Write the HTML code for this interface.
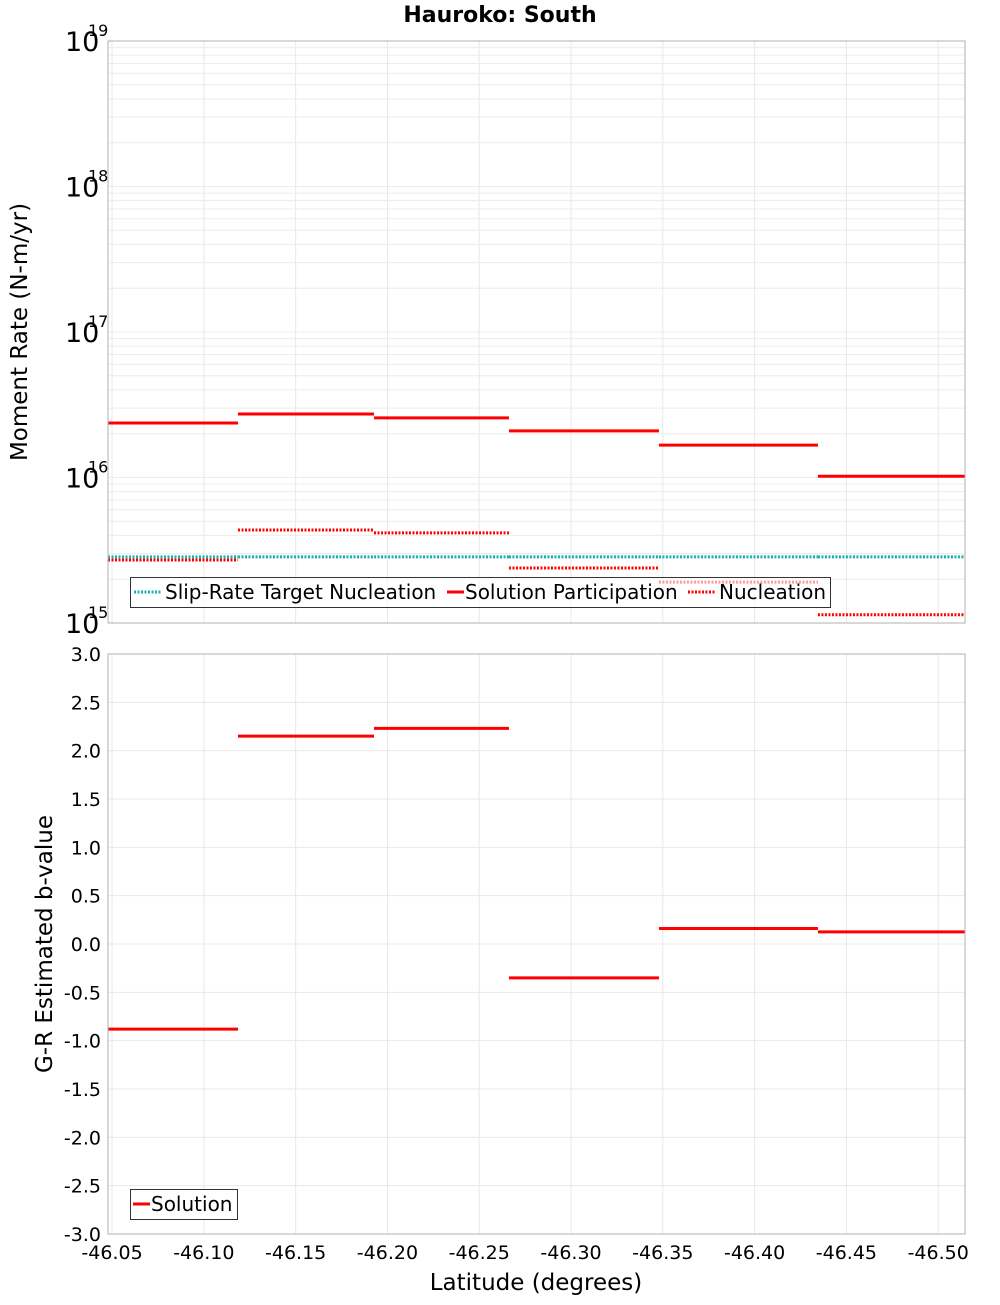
<!DOCTYPE html>
<html><head><meta charset="utf-8"><style>
body{margin:0;background:#fff;font-family:"Liberation Sans","DejaVu Sans",sans-serif;}
svg text{font-family:"DejaVu Sans","Liberation Sans",sans-serif;}
</style></head><body>
<svg id="c" width="1000" height="1300" xmlns="http://www.w3.org/2000/svg">
<text x="500" y="22" text-anchor="middle" font-size="22" font-weight="bold">Hauroko: South</text>
<text transform="translate(27,332) rotate(-90)" text-anchor="middle" font-size="23">Moment Rate (N-m/yr)</text>
<text transform="translate(52,944) rotate(-90)" text-anchor="middle" font-size="23">G-R Estimated b-value</text>
<text x="536" y="1290" text-anchor="middle" font-size="23">Latitude (degrees)</text>
<g id="g"></g>
</svg>
<script>
const segEdges=[-46.0478,-46.1186,-46.1927,-46.2662,-46.3479,-46.4345,-46.5146];
const participation=[2.37e16,2.73e16,2.57e16,2.09e16,1.67e16,1.02e16];
const nucleation=[2.71e15,4.36e15,4.16e15,2.39e15,1.91e15,1.14e15];
const target=[2.85e15,2.85e15,2.85e15,2.85e15,2.85e15,2.85e15];
const bvalue=[-0.88,2.15,2.23,-0.35,0.16,0.125];
const xTicks=[-46.05,-46.10,-46.15,-46.20,-46.25,-46.30,-46.35,-46.40,-46.45,-46.50];
const decades=[15,16,17,18,19];
const bTicks=[3,2.5,2,1.5,1,0.5,0,-0.5,-1,-1.5,-2,-2.5,-3];

const NS="http://www.w3.org/2000/svg";
const g=document.getElementById('g');
const L=108,R=965,T1=41,B1=623,T2=654,B2=1234;
const X0=-46.0478,X1=-46.5146;
const xs=v=>L+(v-X0)/(X1-X0)*(R-L);
const ys1=v=>B1-(Math.log10(v)-15)/4*(B1-T1);
const ys2=v=>T2+(3-v)/6*(B2-T2);
function el(t,a,p){const e=document.createElementNS(NS,t);for(const k in a)e.setAttribute(k,a[k]);(p||g).appendChild(e);return e;}

for(const t of xTicks){const x=xs(t);
 let l=el('line',{x1:x,x2:x,y1:T1,y2:B1,stroke:'#e8e8e8'});
 
 l=el('line',{x1:x,x2:x,y1:T2,y2:B2,stroke:'#e8e8e8'});
 
 const tx=el('text',{x:x,y:1259,'text-anchor':'middle','font-size':19});tx.textContent=t.toFixed(2);
 
}
for(let d=15;d<19;d++)for(let m=1;m<10;m++){const y=ys1(m*Math.pow(10,d));
 const l=el('line',{x1:L,x2:R,y1:y,y2:y,stroke:'#ececec'});
 }
for(const d of decades){const y=ys1(Math.pow(10,d));
 const t=el('text',{x:65,y:y+10,'font-size':27});t.textContent='10';
 
 const s=el('text',{x:88,y:y-5,'font-size':16});s.textContent=String(d);
 }
for(const b of bTicks){const y=ys2(b);
 const l=el('line',{x1:L,x2:R,y1:y,y2:y,stroke:'#e8e8e8'});
 
 const t=el('text',{x:101,y:y+7,'text-anchor':'end','font-size':19});t.textContent=b.toFixed(1);
 }

function steps(vals,ys,attrs,name){vals.forEach((v,i)=>{const y=ys(v);
 const a=Object.assign({x1:xs(segEdges[i]),x2:xs(segEdges[i+1]),y1:y,y2:y},attrs);
 const l=el('line',a);});}
steps(target,ys1,{stroke:'#16b0b0','stroke-width':3,'stroke-dasharray':'2,1.5'},'target-nucleation-segment');
steps(nucleation,ys1,{stroke:'#ff0000','stroke-width':3,'stroke-dasharray':'2,1.5'},'nucleation-segment');
steps(participation,ys1,{stroke:'#ff0000','stroke-width':3},'participation-segment');
steps(bvalue,ys2,{stroke:'#ff0000','stroke-width':3},'bvalue-segment');

let f=el('rect',{x:L,y:T1,width:R-L,height:B1-T1,fill:'none',stroke:'#b0b0b0'});

f=el('rect',{x:L,y:T2,width:R-L,height:B2-T2,fill:'none',stroke:'#b0b0b0'});


let lg=el('rect',{x:130.5,y:577.5,width:700,height:30,fill:'rgba(255,255,255,0.6)',stroke:'#333'});

const items=[[134,'#16b0b0',true,'Slip-Rate Target Nucleation'],[447,'#ff0000',false,'Solution Participation'],[688,'#ff0000',true,'Nucleation']];
for(const [x,c,d,txt] of items){
 const l=el('line',{x1:x,x2:x+(d?28:17),y1:592,y2:592,stroke:c,'stroke-width':3,'stroke-dasharray':d?'2,1.5':'none'});
 
 const t=el('text',{x:x+(d?31:18),y:599,'font-size':20});t.textContent=txt;
 }
lg=el('rect',{x:130.5,y:1189.5,width:107,height:30,fill:'#fff',stroke:'#333'});

let l2=el('line',{x1:133,x2:150,y1:1204,y2:1204,stroke:'#ff0000','stroke-width':3});

let t2=el('text',{x:151,y:1211,'font-size':20});t2.textContent='Solution';

</script>
</body></html>
